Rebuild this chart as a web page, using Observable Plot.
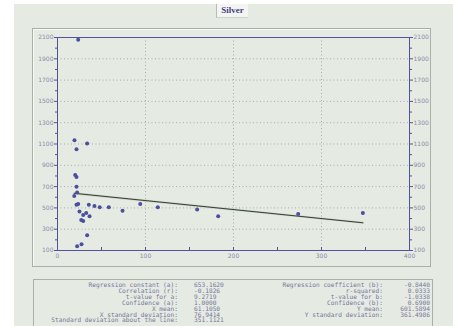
<!DOCTYPE html>
<html>
<head>
<meta charset="utf-8">
<script src="https://cdn.jsdelivr.net/npm/d3@7"></script>
<script src="https://cdn.jsdelivr.net/npm/@observablehq/plot@0.6"></script>
<style>
  html, body { margin: 0; padding: 0; background: #ffffff; width: 453px; height: 326px; overflow: hidden; }
  #bg { position: absolute; left: 14px; top: 4px; width: 439px; height: 322px; background: #e5eae3; }
  #panel { position: absolute; left: 32px; top: 28px; width: 397px; height: 237px; border: 1px solid #a9b0a8; box-shadow: 1px 1px 0 #f6f8f5 inset; }
  #title { position: absolute; left: 216px; top: 4px; width: 31px; height: 13px; background: #f3f5f2; border-left: 1px solid #b8bcb6; border-bottom: 1px solid #cfd3cd;
           font: bold 9px "Liberation Serif", "DejaVu Serif", serif; color: #4a3f7c; text-align: center; line-height: 13px; }
  #chart { position: absolute; left: 0; top: 0; }
  #stats { position: absolute; left: 33px; top: 279px; width: 398px; height: 60px; border: 1px solid #a9b0a8; }
  .st { position: absolute; font: 6.2px "DejaVu Sans Mono", monospace; color: #75789a; white-space: pre; line-height: 6px; }
</style>
</head>
<body>
<div id="bg"></div>
<div id="panel"></div>
<div id="title">Silver</div>
<div id="chart"></div>
<div id="stats"></div>
<script>
// ---- data ----
const xValues = [23.5, 19.3, 21.6, 33.7, 20.1, 21.6, 21.6, 22.3, 19.0, 23.5, 21.6, 35.6, 42.0, 48.0, 58.3, 25.0, 32.6, 29.2, 36.4, 27.0, 29.2, 33.7, 27.3, 22.3, 73.9, 94.0, 114.0, 158.7, 182.6, 273.5, 347.0];
const yValues = [2080, 1136, 1050, 1105, 810, 791, 698, 645, 611, 536, 530, 530, 517, 505, 505, 467, 453, 433, 421, 387, 378, 243, 159, 140, 473, 536, 505, 486, 421, 443, 452];
const yTickLabels = [100, 300, 500, 700, 900, 1100, 1300, 1500, 1700, 1900, 2100];
const yMinorTicks = [200, 400, 600, 800, 1000, 1200, 1400, 1600, 1800, 2000];
const xTickLabels = [0, 100, 200, 300, 400];
const xMinorTicks = [50, 100, 150, 200, 250, 300, 350];
const xGrid = [100, 200, 300];
const yGrid = [300, 500, 700, 900, 1100, 1300, 1500, 1700, 1900];
const regressionA = 653.1620;
const regressionB = -0.8440;

const statLabelsLeft = ["Regression constant (a):", "Correlation (r):", "t-value for a:", "Confidence (a):", "X mean:", "X standard deviation:", "Standard deviation about the line:"];
const statValuesLeft = ["653.1620", "-0.1826", "9.2719", "1.0000", "61.1050", "76.9414", "351.1121"];
const statLabelsRight = ["Regression coefficient (b):", "r-squared:", "t-value for b:", "Confidence (b):", "Y mean:", "Y standard deviation:"];
const statValuesRight = ["-0.8440", "0.0333", "-1.0338", "0.6900", "601.5894", "361.4986"];

// ---- build ----
const points = xValues.map((x, i) => ({x, y: yValues[i]}));
const [xMin, xMax] = d3.extent(xValues);
const regLine = [xMin, xMax].map(x => ({x, y: regressionA + regressionB * x}));

const axisColor = "#52529a";
const labelColor = "#8c8ca8";

const chart = Plot.plot({
  width: 453,
  height: 275,
  marginLeft: 57,
  marginRight: 44,
  marginTop: 37,
  marginBottom: 25,
  style: {background: "transparent", fontFamily: "DejaVu Sans, sans-serif"},
  x: {domain: [0, 400]},
  y: {domain: [100, 2100]},
  marks: [
    Plot.gridY(yGrid, {stroke: "#a9aca9", strokeOpacity: 1, strokeDasharray: "1,2.5"}),
    Plot.gridX(xGrid, {stroke: "#a9aca9", strokeOpacity: 1, strokeDasharray: "1,2.5"}),
    Plot.frame({stroke: axisColor, strokeWidth: 1}),
    Plot.axisY({anchor: "left", label: null, ticks: yTickLabels, tickSize: 3, tickPadding: 1, stroke: axisColor, fill: labelColor, fontSize: 6, tickFormat: d => String(d)}),
    Plot.axisY({anchor: "left", label: null, ticks: yMinorTicks, tickSize: 2, stroke: axisColor, tickFormat: () => ""}),
    Plot.axisY({anchor: "right", label: null, ticks: yTickLabels, tickSize: 3, tickPadding: 1, stroke: axisColor, fill: labelColor, fontSize: 6, tickFormat: d => String(d)}),
    Plot.axisY({anchor: "right", label: null, ticks: yMinorTicks, tickSize: 2, stroke: axisColor, tickFormat: () => ""}),
    Plot.axisX({anchor: "bottom", label: null, ticks: xTickLabels, tickSize: 0, tickPadding: 3, fill: labelColor, fontSize: 6, tickFormat: d => String(d)}),
    Plot.ruleX(xMinorTicks, {stroke: axisColor, insetTop: 210}),
    Plot.line(regLine, {x: "x", y: "y", stroke: "#c8d0c4", strokeWidth: 2.2}),
    Plot.line(regLine, {x: "x", y: "y", stroke: "#334033", strokeWidth: 1}),
    Plot.dot(points, {x: "x", y: "y", r: 2, fill: "#4a4f9e", stroke: "none"})
  ]
});
document.getElementById("chart").appendChild(chart);

// ---- stats box ----
const stats = document.getElementById("stats");
function addText(txt, left, top, align) {
  const d = document.createElement("div");
  d.className = "st";
  d.textContent = txt;
  d.style.top = top + "px";
  if (align === "right") { d.style.right = left + "px"; d.style.textAlign = "right"; }
  else d.style.left = left + "px";
  stats.appendChild(d);
}
statLabelsLeft.forEach((t, i) => addText(t, 398 - 144, 2 + i * 5.9, "right"));
statValuesLeft.forEach((t, i) => addText(t, 160, 2 + i * 5.9, "left"));
statLabelsRight.forEach((t, i) => addText(t, 398 - 349, 2 + i * 5.9, "right"));
statValuesRight.forEach((t, i) => addText(t, 2, 2 + i * 5.9, "right"));
</script>
</body>
</html>
